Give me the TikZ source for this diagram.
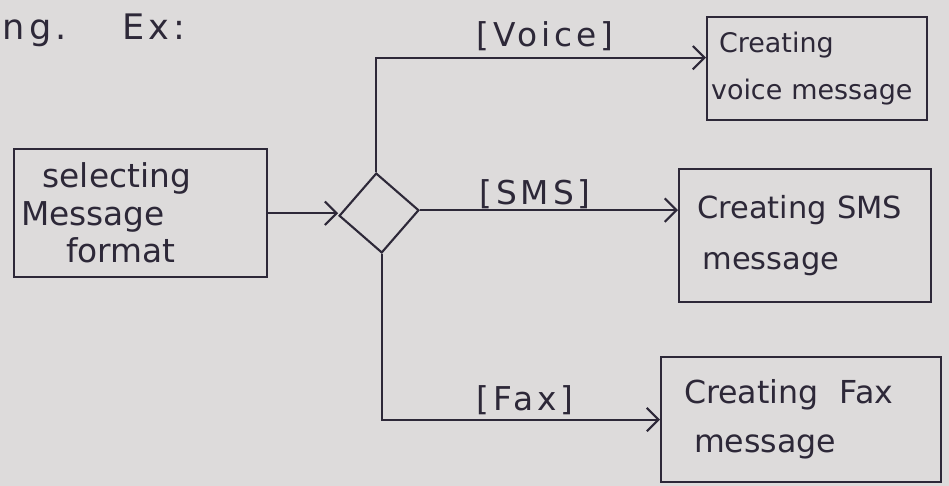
\documentclass[tikz,border=0pt]{standalone}
\usepackage{fontspec}
\setmainfont{DejaVu Sans}
\newfontfamily\guardfont[LetterSpace=12]{DejaVu Sans}
\usepackage{tikz}
\usetikzlibrary{arrows.meta, shapes.geometric}
\definecolor{paper}{HTML}{DDDBDB}
\definecolor{ink}{HTML}{2D2838}
\tikzset{
  hand/.style={font=\fontsize{27}{42}\selectfont, text=ink},
  act/.style={draw=ink, line width=1.8pt, hand, align=left,
              inner sep=6pt, anchor=north west},
  choice/.style={draw=ink, line width=1.8pt, diamond, shape aspect=1,
                 minimum width=2.4cm, minimum height=2.4cm, inner sep=0pt,
                 rotate=4},
  flow/.style={draw=ink, line width=1.8pt,
               -{Straight Barb[length=10pt, width=20pt, line width=1.8pt]}},
  guard/.style={font=\guardfont\fontsize{28}{32}\selectfont, text=ink,
                inner sep=2pt},
}
\begin{document}
\begin{tikzpicture}[x=0.03cm, y=-0.03cm]

  \fill[paper] (0,0) rectangle (949,486);
  \useasboundingbox (0,0) rectangle (949,486);

  \node[guard, anchor=west, font=\guardfont\fontsize{30}{34}\selectfont] (head) at (0,30)
    {ng. \quad Ex:};

  % activities
  \node[act, text width=7.18cm, minimum height=3.85cm, inner xsep=0.21cm,
        font=\fontsize{28}{32}\selectfont] (sel) at (13,148)
    {\hspace{0.65cm}selecting\\Message\\\hspace{1.35cm}format};
  \node[choice] (dia) at (379,213) {};
  \node[act, text width=6.36cm, minimum height=3.1cm, inner xsep=0.12cm,
        font=\fontsize{23}{40}\selectfont] (voice) at (706,16)
    {\hspace{0.24cm}Creating\\voice message};
  \node[act, text width=6.45cm, minimum height=4cm, inner xsep=0.55cm,
        font=\fontsize{26}{44}\selectfont] (sms) at (678,168)
    {Creating SMS\\\hspace{0.15cm}message};
  \node[act, text width=7.02cm, minimum height=3.75cm, inner xsep=0.69cm] (fax) at (660,356)
    {Creating \ Fax\\\hspace{0.3cm}message};

  % flows
  \draw[flow] (sel.east) -- (sel.east -| dia.west);
  \draw[flow] (dia.north) |- ([yshift=0.33cm]voice.west);
  \draw[flow] (dia.east) -- (dia.east -| sms.west);
  \draw[flow] (dia.south) |- (fax.west);

  % guards
  \node[guard] (gv) at (545,36) {[Voice]};
  \node[guard] (gs) at (535,194) {[SMS]};
  \node[guard] (gf) at (525,400) {[Fax]};

\end{tikzpicture}
\end{document}
